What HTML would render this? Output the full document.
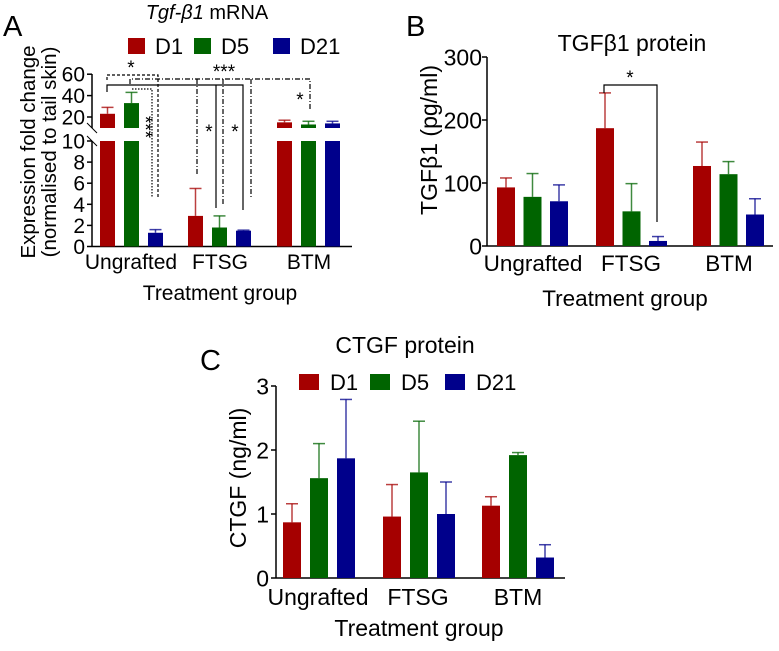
<!DOCTYPE html>
<html><head><meta charset="utf-8">
<style>
html,body{margin:0;padding:0;background:#fff;}
svg{display:block;font-family:"Liberation Sans",Arial,sans-serif;}
</style></head>
<body>
<svg id="fig" width="779" height="651" viewBox="0 0 779 651" xmlns="http://www.w3.org/2000/svg">
  <text x="3" y="36" font-size="29">A</text>
  <text x="207" y="19" font-size="20" text-anchor="middle"><tspan font-style="italic">Tgf-β1</tspan> mRNA</text>
  <g font-size="20.5" text-anchor="middle">
    <text transform="translate(35,152) rotate(-90)">Expression fold change</text>
    <text transform="translate(56,152) rotate(-90)">(normalised to tail skin)</text>
  </g>
  <text x="220" y="300" font-size="21" text-anchor="middle">Treatment group</text>
  <text x="406" y="36" font-size="29">B</text>
  <text x="632" y="51" font-size="23" text-anchor="middle">TGFβ1 protein</text>
  <text transform="translate(437,140) rotate(-90)" font-size="23" text-anchor="middle">TGFβ1 (pg/ml)</text>
  <text x="625" y="306" font-size="22.5" text-anchor="middle">Treatment group</text>
  <text x="200" y="370" font-size="29">C</text>
  <text x="405" y="353" font-size="23" text-anchor="middle">CTGF protein</text>
  <text transform="translate(246,478) rotate(-90)" font-size="23" text-anchor="middle">CTGF (ng/ml)</text>
  <text x="419" y="636" font-size="23" text-anchor="middle">Treatment group</text>
  <g id="layer"></g>
</svg>
<script>
const categories = ["Ungrafted", "FTSG", "BTM"];
const seriesNames = ["D1", "D5", "D21"];
const colors = ["#a50000", "#006400", "#00008b"];
const aD1 = [23, 2.9, 15];
const aD5 = [33, 1.8, 13];
const aD21 = [1.3, 1.5, 14];
const aD1err = [29, 5.5, 17];
const aD5err = [43, 2.9, 16];
const aD21err = [1.6, 1.55, 16];
const aLowTicks = [0, 2, 4, 6, 8, 10];
const aHighTicks = [20, 40, 60];
const bD1 = [93, 187, 127];
const bD5 = [78, 55, 114];
const bD21 = [71, 8, 50];
const bD1err = [108, 243, 165];
const bD5err = [115, 99, 134];
const bD21err = [97, 15, 75];
const bTicks = [0, 100, 200, 300];
const cD1 = [0.87, 0.96, 1.13];
const cD5 = [1.56, 1.65, 1.92];
const cD21 = [1.87, 1.0, 0.32];
const cD1err = [1.16, 1.46, 1.27];
const cD5err = [2.1, 2.45, 1.96];
const cD21err = [2.79, 1.5, 0.52];
const cTicks = [0, 1, 2, 3];

const NS = "http://www.w3.org/2000/svg";
const layer = document.getElementById("layer");
function mk(tag, attrs, parent) {
  const e = document.createElementNS(NS, tag);
  for (const k in attrs) e.setAttribute(k, attrs[k]);
  (parent || layer).appendChild(e);
  return e;
}
function txt(x, y, s, size, anchor) {
  const t = mk("text", {x: x, y: y, "font-size": size, "text-anchor": anchor || "middle"});
  t.textContent = s;
  return t;
}
function drawPanel(p) {
  const n = p.id;
  let ax = mk("line", {x1: p.x0, y1: p.yTop, x2: p.x0, y2: p.y0, stroke: "#000", "stroke-width": 1.5});
  
  
  let bx = mk("line", {x1: p.x0, y1: p.y0, x2: p.xEnd, y2: p.y0, stroke: "#000", "stroke-width": 1.5});
  
  
  categories.forEach((c, gi) => {
    const t = txt(p.catX[gi], p.catY, c, p.catSize);
    
    
  });
}
function drawBar(p, si, gi, v, e, ys) {
  const left = p.barLeft[gi] + si * p.step;
  const cx = left + p.bw / 2;
  const yv = ys(v), ye = ys(e);
  const el = mk("line", {x1: cx, y1: yv, x2: cx, y2: ye, stroke: colors[si], "stroke-width": 1.5, opacity: 0.75});
  
  
  const cap = mk("line", {x1: cx - 6, y1: ye, x2: cx + 6, y2: ye, stroke: colors[si], "stroke-width": 1.5, opacity: 0.75});
  
  
  const r = mk("rect", {x: left, y: yv, width: p.bw, height: Math.max(0, p.y0 - yv), fill: colors[si]});
  
  
  return r;
}
function legend(xs, y, size, id, sw, gap) {
  seriesNames.forEach((s, i) => {
    const r = mk("rect", {x: xs[i], y: y - 8, width: sw, height: 16, fill: colors[i]});
    
    
    const t = txt(xs[i] + gap, y + 8, s, size, "start");
    
    
  });
}
function ln(pts, dash, name) {
  const pl = mk("polyline", {points: pts, fill: "none", stroke: "#000", "stroke-width": 1.2, "stroke-dasharray": dash || "none"});
  
  
}

// ---------- Panel A ----------
const pA = {id: "panel-a", x0: 92, y0: 246.5, yTop: 74, xEnd: 352, catX: [131, 220, 309], catY: 269, catSize: 21,
  barLeft: [100, 188, 277], step: 24, bw: 15};
function yA(v) {
  if (v <= 10) return pA.y0 - v * 10.55;
  return 117 - (v - 20) * 1.07;
}
let a1 = mk("line", {x1: 92, y1: 141, x2: 92, y2: 246.5, stroke: "#000", "stroke-width": 1.5});


let a2 = mk("line", {x1: 92, y1: 74, x2: 92, y2: 128, stroke: "#000", "stroke-width": 1.5});


let ab1 = mk("line", {x1: 87, y1: 123, x2: 97, y2: 133, stroke: "#000", "stroke-width": 1});


let ab2 = mk("line", {x1: 87, y1: 136, x2: 97, y2: 146, stroke: "#000", "stroke-width": 1});


let axA = mk("line", {x1: 92, y1: pA.y0, x2: pA.xEnd, y2: pA.y0, stroke: "#000", "stroke-width": 1.5});


categories.forEach((c, gi) => {
  const t = txt(pA.catX[gi], pA.catY, c, pA.catSize);
  
  
});
aLowTicks.concat(aHighTicks).forEach(v => {
  const y = yA(v);
  const tk = mk("line", {x1: 87, y1: y, x2: 92, y2: y, stroke: "#000", "stroke-width": 1.5});
  
  
  const t = txt(85, y + 7.5, String(v), 21, "end");
  
  
});
[aD1, aD5, aD21].forEach((arr, si) => {
  const errs = [aD1err, aD5err, aD21err][si];
  arr.forEach((v, gi) => {
    if (v > 10) {
      const left = pA.barLeft[gi] + si * pA.step;
      const cx = left + pA.bw / 2;
      const yv = yA(v), ye = yA(errs[gi]);
      const el = mk("line", {x1: cx, y1: yv, x2: cx, y2: ye, stroke: colors[si], "stroke-width": 1.5, opacity: 0.75});
      
      
      const cap = mk("line", {x1: cx - 6, y1: ye, x2: cx + 6, y2: ye, stroke: colors[si], "stroke-width": 1.5, opacity: 0.75});
      
      
      const r1 = mk("rect", {x: left, y: yA(10), width: pA.bw, height: pA.y0 - yA(10), fill: colors[si]});
      
      
      const r2 = mk("rect", {x: left, y: yv, width: pA.bw, height: Math.max(2, 128 - yv), fill: colors[si]});
      
      
    } else {
      drawBar(pA, si, gi, v, errs[gi], yA);
    }
  });
});
legend([128, 194, 273], 46, 22, "panel-a", 17, 27);
ln("107,92 107,85 243,85 243,210", null, "panel-a-sig-bracket-solid");
ln("216,85 216,208", null, "panel-a-sig-bracket-solid-2");
ln("107,80 107,75 158,75 158,198", "3,2", "panel-a-sig-bracket-dashed");
ln("130,84 130,79 310,79 310,110", "5,2,1,2", "panel-a-sig-bracket-dashdot");
ln("197,79 197,175", "5,2,1,2", "panel-a-sig-drop-1");
ln("223,79 223,205", "5,2,1,2", "panel-a-sig-drop-2");
ln("251,79 251,198", "5,2,1,2", "panel-a-sig-drop-3");
ln("132,89 152,89 152,198", "1.5,1.5", "panel-a-sig-bracket-dotted");
[[131, 74, "*"], [224, 78, "***"], [209, 138, "*"], [235, 138, "*"], [300, 106, "*"]].forEach(s => {
  const t = txt(s[0], s[1], s[2], 19);
  
  
});
const rs = mk("text", {transform: "translate(139,127) rotate(90)", "font-size": 19, "text-anchor": "middle"});
rs.textContent = "***";



// ---------- Panel B ----------
const pB = {id: "panel-b", x0: 487, y0: 246, yTop: 57, xEnd: 773, catX: [533, 631, 729], catY: 271, catSize: 22.5,
  barLeft: [497, 596, 693], step: 26.5, bw: 18};
function yB(v) { return pB.y0 - v * (pB.y0 - 57) / 300; }
drawPanel(pB);
bTicks.forEach(v => {
  const y = yB(v);
  const tk = mk("line", {x1: 482, y1: y, x2: 487, y2: y, stroke: "#000", "stroke-width": 1.5});
  
  
  const t = txt(482, y + 8.5, String(v), 23, "end");
  
  
});
[bD1, bD5, bD21].forEach((arr, si) => {
  const errs = [bD1err, bD5err, bD21err][si];
  arr.forEach((v, gi) => drawBar(pB, si, gi, v, errs[gi], yB));
});
ln("604,93 604,85 657,85 657,222", null, "panel-b-sig-bracket");
const sb = txt(630, 84, "*", 19);



// ---------- Panel C ----------
const pC = {id: "panel-c", x0: 276, y0: 578, yTop: 386, xEnd: 565, catX: [318, 418, 518], catY: 605, catSize: 23,
  barLeft: [283, 383, 482], step: 27, bw: 18};
function yC(v) { return pC.y0 - v * (pC.y0 - 386) / 3; }
drawPanel(pC);
cTicks.forEach(v => {
  const y = yC(v);
  const tk = mk("line", {x1: 271, y1: y, x2: 276, y2: y, stroke: "#000", "stroke-width": 1.5});
  
  
  const t = txt(269, y + 8.5, String(v), 23, "end");
  
  
});
[cD1, cD5, cD21].forEach((arr, si) => {
  const errs = [cD1err, cD5err, cD21err][si];
  arr.forEach((v, gi) => drawBar(pC, si, gi, v, errs[gi], yC));
});
legend([299, 370, 445], 382, 22, "panel-c", 20, 31);
</script>
</body></html>
